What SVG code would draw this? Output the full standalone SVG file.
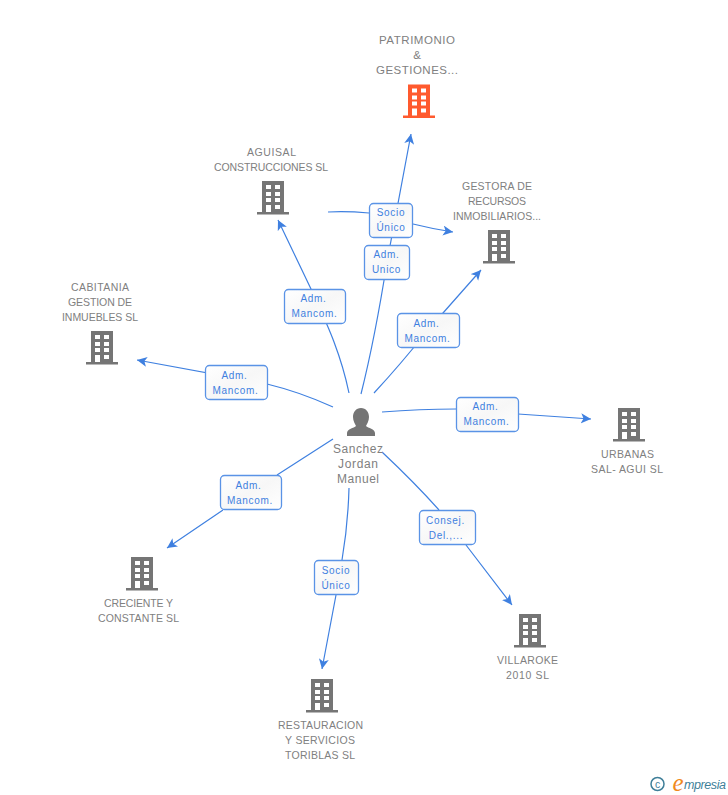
<svg xmlns="http://www.w3.org/2000/svg" width="728" height="795" viewBox="0 0 728 795">
<style>
text{font-family:"Liberation Sans",Arial,sans-serif;text-anchor:middle}
.n{font-size:10.500px;fill:#808080}
.t{font-size:11.500px;fill:#808080}
.p{font-size:12px;fill:#808080}
.l{font-size:10px;fill:#3f80e0;letter-spacing:.7px}
.c{fill:none;stroke:#3f80e0;stroke-width:1.200}
.b{fill:url(#lg);stroke:#5a93e6;stroke-width:1.300}
.g{fill:#757575}.o{fill:#ff5a2e}
</style>
<defs>
<linearGradient id="lg" x1="0" y1="0" x2="1" y2="1"><stop offset="0" stop-color="#ffffff"/><stop offset=".5" stop-color="#f7f7f7"/><stop offset="1" stop-color="#ffffff"/></linearGradient>
<marker id="a" markerWidth="12" markerHeight="12" refX="10" refY="5" orient="auto" markerUnits="userSpaceOnUse"><path d="M0 0L10 5L0 10L2.500 5Z" fill="#3f80e0"/></marker>
<path id="bld" fill-rule="evenodd" d="M5 0H27V31H32V33.500H0V31H5ZM9 4V8H14V4ZM18 4V8H23V4ZM9 11V15H14V11ZM18 11V15H23V11ZM9 17V21H14V17ZM18 17V21H23V17ZM9 24V31H14V24ZM18 24V28H23V24Z"/>
</defs>
<rect width="728" height="795" fill="#fff"/>
<g id="connectors">
<path class="c" marker-end="url(#a)" d="M361 394C372 350 381 300 387 262L411 134"/>
<path class="c" marker-end="url(#a)" d="M349 393C340 350 325 320 311 289L278 220"/>
<path class="c" marker-end="url(#a)" d="M328 212C345 211 358 212 369 213M413 224Q433 229 453 232"/>
<path class="c" marker-end="url(#a)" d="M374 393Q400 365 428 330L481 270"/>
<path class="c" marker-end="url(#a)" d="M333 407Q300 392 267 384L137 360"/>
<path class="c" marker-end="url(#a)" d="M382 412Q420 409 456 409M518 414L591 419"/>
<path class="c" marker-end="url(#a)" d="M333 439L277 475M223 510L167 548"/>
<path class="c" marker-end="url(#a)" d="M382 452Q415 483 439 510M466 545L512 605"/>
<path class="c" marker-end="url(#a)" d="M349 488Q348 525 342 560M336 595L322 669"/>
</g>
<g id="n-patrimonio"><text class="t" x="417" y="44" textLength="76">PATRIMONIO</text><text class="t" x="417" y="59">&amp;</text><text class="t" x="417" y="74" textLength="82">GESTIONES...</text><use href="#bld" class="o" x="403" y="84.500"/></g>
<g id="n-aguisal"><text class="n" x="271.500" y="156" textLength="49">AGUISAL</text><text class="n" x="271" y="171" textLength="114">CONSTRUCCIONES SL</text><use href="#bld" class="g" x="257" y="181"/></g>
<g id="n-gestora"><text class="n" x="497" y="190" textLength="70">GESTORA DE</text><text class="n" x="497" y="205" textLength="58">RECURSOS</text><text class="n" x="497" y="220" textLength="88">INMOBILIARIOS...</text><use href="#bld" class="g" x="483" y="230"/></g>
<g id="n-cabitania"><text class="n" x="100" y="291" textLength="58">CABITANIA</text><text class="n" x="100" y="306" textLength="64">GESTION DE</text><text class="n" x="100" y="321" textLength="76">INMUEBLES SL</text><use href="#bld" class="g" x="86" y="331"/></g>
<g id="n-urbanas"><use href="#bld" class="g" x="613" y="408"/><text class="n" x="627.500" y="458" textLength="53">URBANAS</text><text class="n" x="627" y="473" textLength="72">SAL- AGUI SL</text></g>
<g id="n-creciente"><use href="#bld" class="g" x="126" y="557"/><text class="n" x="138.500" y="607" textLength="69">CRECIENTE Y</text><text class="n" x="138.500" y="622" textLength="81">CONSTANTE SL</text></g>
<g id="n-villaroke"><use href="#bld" class="g" x="514" y="614"/><text class="n" x="527.500" y="664" textLength="61">VILLAROKE</text><text class="n" x="527.500" y="679" textLength="43">2010 SL</text></g>
<g id="n-restauracion"><use href="#bld" class="g" x="306" y="679"/><text class="n" x="320.500" y="729" textLength="85">RESTAURACION</text><text class="n" x="320" y="744" textLength="70">Y SERVICIOS</text><text class="n" x="320" y="759" textLength="70">TORIBLAS SL</text></g>
<g id="n-person"><path class="g" d="M361 408C366 408 369 412 369 417C369 421 367 424 366 426C368 428 375 429 375 433V436H347V433C347 429 354 428 356 426C355 424 353 421 353 417C353 412 356 408 361 408Z"/><text class="p" x="358" y="453" textLength="50">Sanchez</text><text class="p" x="358" y="468" textLength="40">Jordan</text><text class="p" x="358" y="483" textLength="42">Manuel</text></g>
<g id="labels">
<rect class="b" x="369.500" y="203.500" width="43" height="34" rx="4"/><text class="l" x="391" y="216">Socio</text><text class="l" x="391" y="231">Único</text>
<rect class="b" x="364.500" y="245.500" width="45" height="34" rx="4"/><text class="l" x="386.500" y="258">Adm.</text><text class="l" x="386.500" y="273">Unico</text>
<rect class="b" x="284.500" y="289.500" width="61" height="34" rx="4"/><text class="l" x="313.500" y="302">Adm.</text><text class="l" x="314.500" y="317">Mancom.</text>
<rect class="b" x="397.500" y="313.500" width="62" height="34" rx="4"/><text class="l" x="426.500" y="327">Adm.</text><text class="l" x="427.500" y="342">Mancom.</text>
<rect class="b" x="205.500" y="365.500" width="62" height="34" rx="4"/><text class="l" x="234.500" y="379">Adm.</text><text class="l" x="235.500" y="394">Mancom.</text>
<rect class="b" x="456.500" y="397.500" width="62" height="34" rx="4"/><text class="l" x="485.500" y="410">Adm.</text><text class="l" x="486.500" y="425">Mancom.</text>
<rect class="b" x="220.500" y="475.500" width="61" height="34" rx="4"/><text class="l" x="248.500" y="489">Adm.</text><text class="l" x="250" y="504">Mancom.</text>
<rect class="b" x="419.500" y="510.500" width="56" height="34" rx="4"/><text class="l" x="445.500" y="524">Consej.</text><text class="l" x="446" y="539">Del.,...</text>
<rect class="b" x="314.500" y="560.500" width="44" height="34" rx="4"/><text class="l" x="336" y="574">Socio</text><text class="l" x="336" y="589">Único</text>
</g>
<g id="logo"><circle cx="657.500" cy="784" r="6.500" fill="none" stroke="#3f7f99" stroke-width="1.500"/><text x="657.500" y="787.500" font-size="10.500" fill="#3f7f99">c</text><text x="678" y="791" font-size="25" fill="#f08a1d" style="font-family:'Liberation Serif',serif;font-style:italic">e</text><text x="705" y="789" font-size="12.500" fill="#3f7f99" textLength="42" style="font-style:italic">mpresia</text></g>
</svg>
